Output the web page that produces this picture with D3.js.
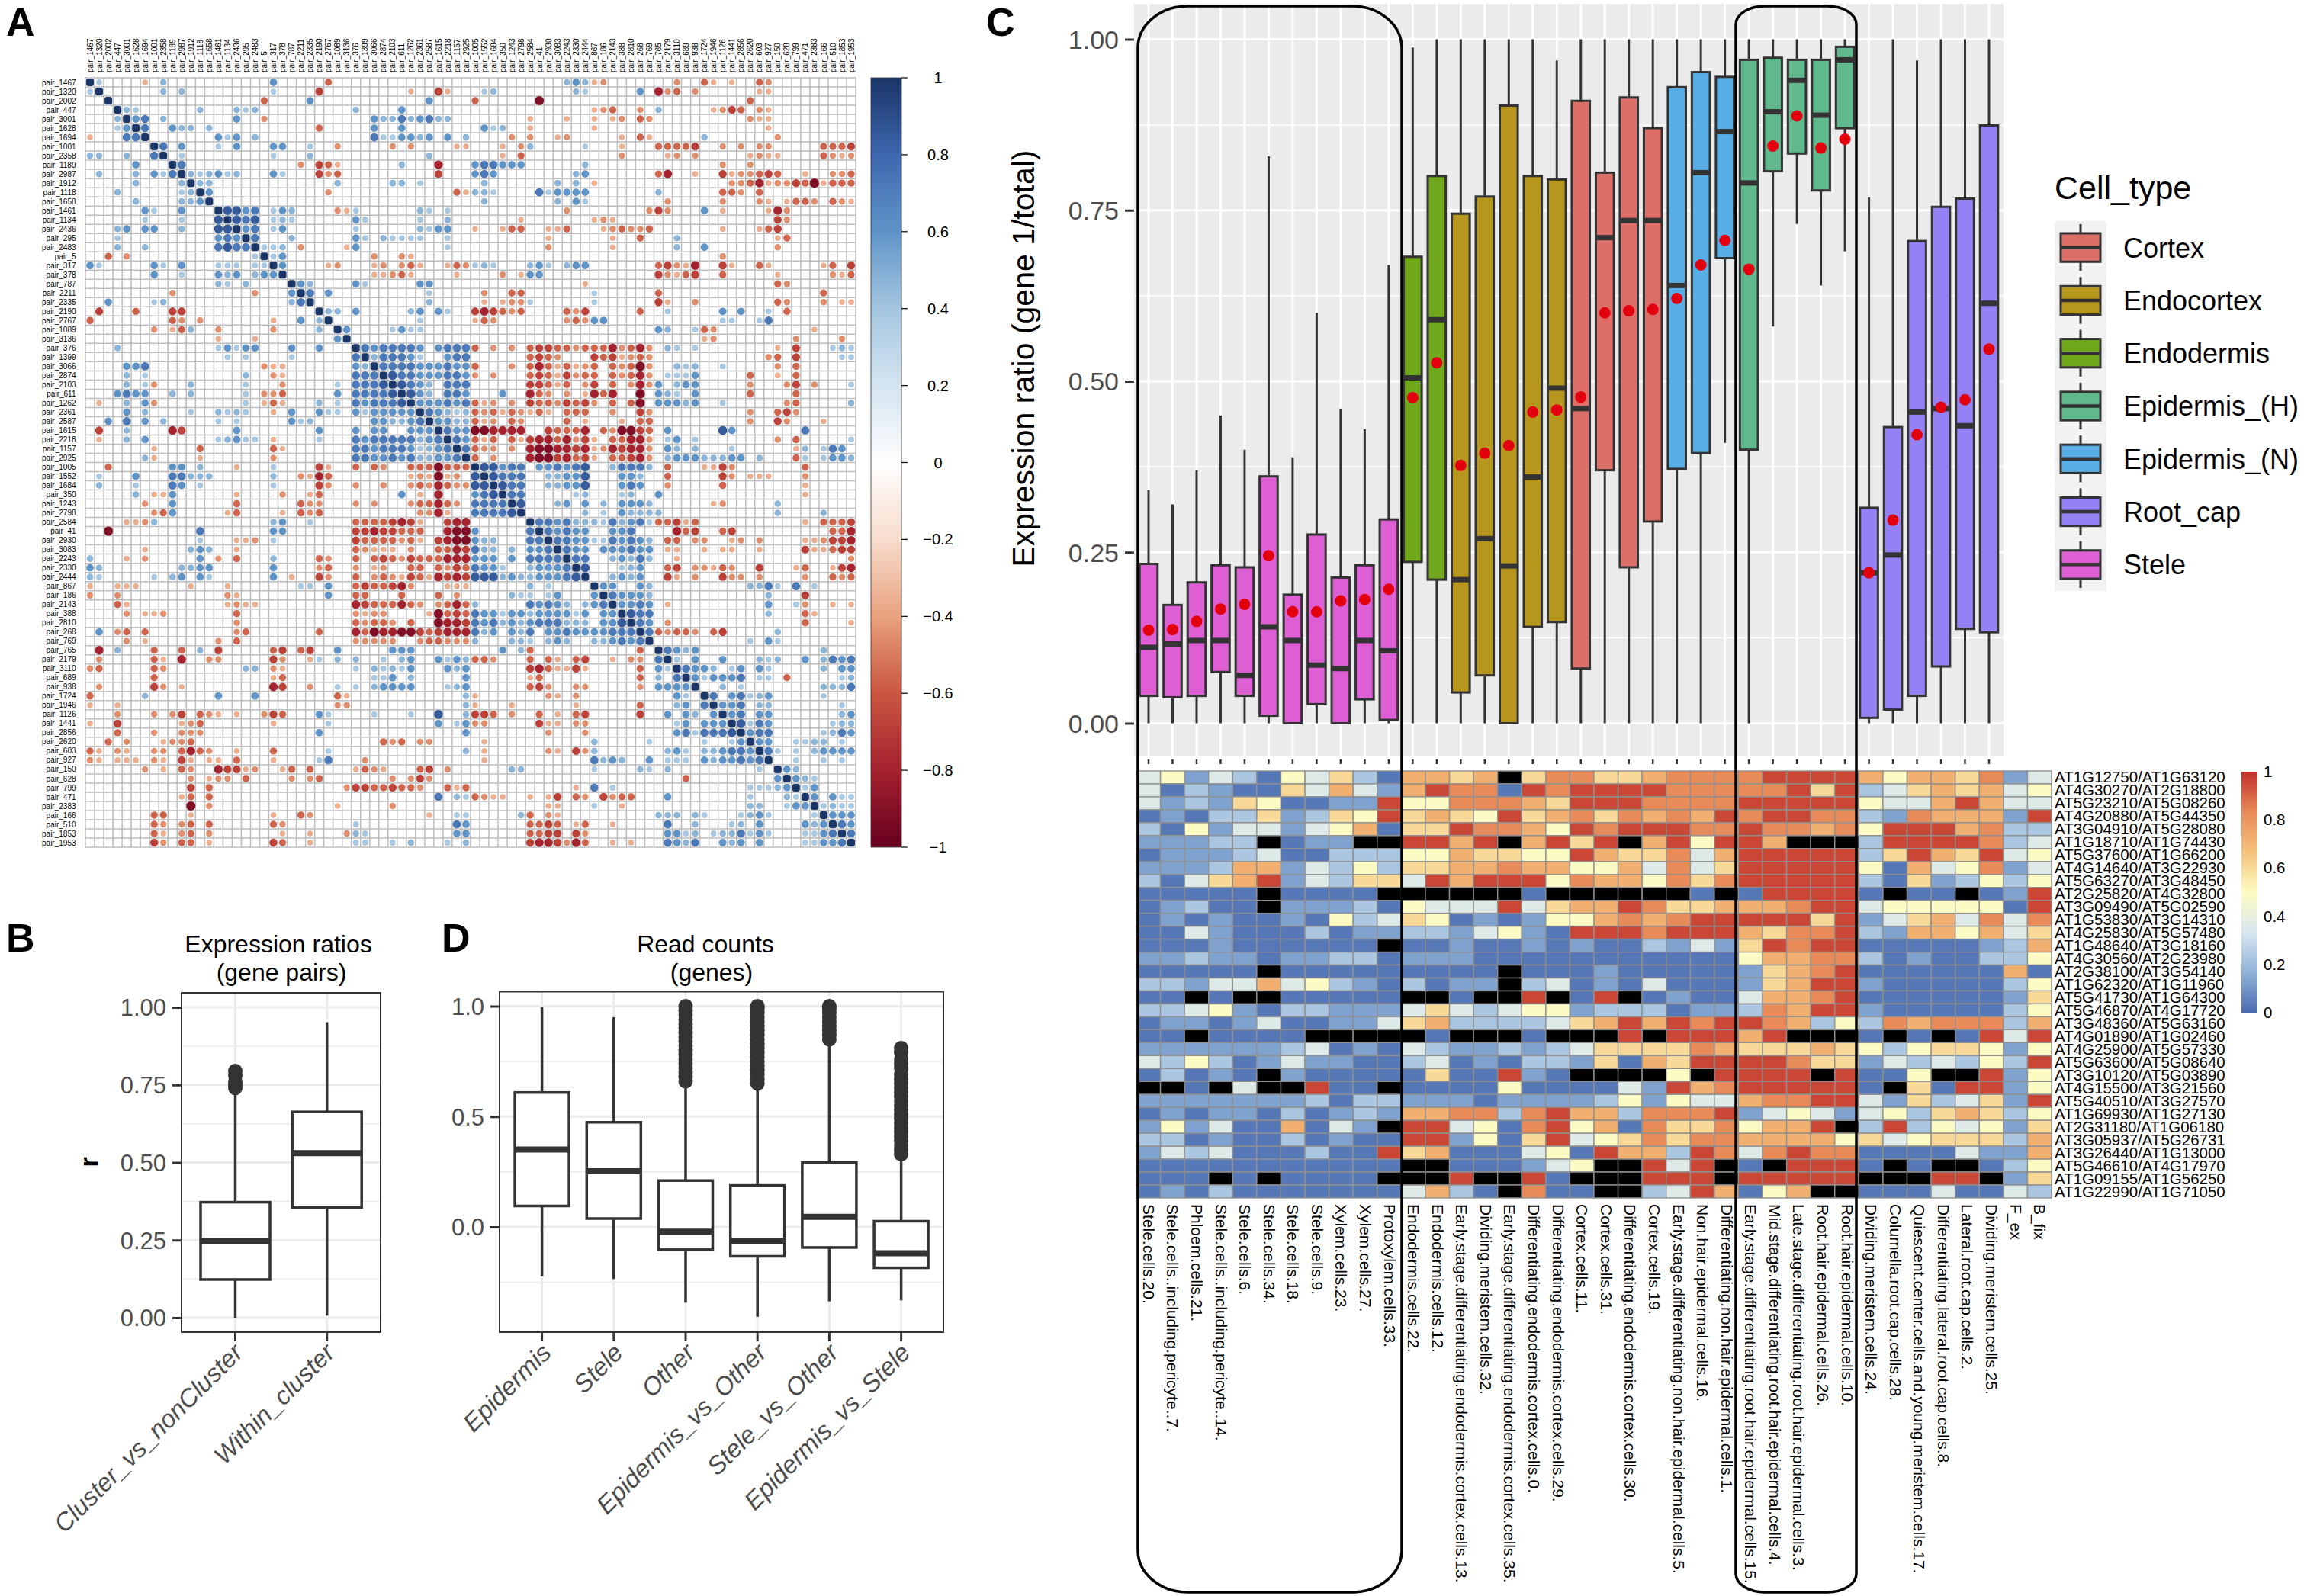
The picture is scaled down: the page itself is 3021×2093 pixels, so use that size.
<!DOCTYPE html>
<html><head><meta charset="utf-8">
<script src="https://cdn.jsdelivr.net/npm/d3@7/dist/d3.min.js"></script>
<style>
html,body{margin:0;padding:0;background:#fff}
svg{display:block}
text{font-family:"Liberation Sans",Arial,sans-serif}
</style></head><body>
<svg id="chart" width="3021" height="2093" xmlns="http://www.w3.org/2000/svg"></svg>
<script>
// ---------- Panel A data ----------
const pairIds = [1467,1320,2002,447,3001,1628,1694,1001,2358,1189,2987,1912,1118,1658,1461,1134,2436,295,2483,5,317,378,787,2211,2335,2190,2767,1089,3136,376,1399,3066,2874,2103,611,1262,2361,2587,1615,2218,1157,2925,1005,1552,1684,350,1243,2798,2584,41,2930,3083,2243,2330,2444,867,186,2143,388,2810,268,769,765,2179,3110,689,938,1724,1946,1126,1441,2856,2620,603,927,150,628,799,471,2383,166,510,1853,1953];
// upper triangle, by row: "startColumn:levels" ('.' = blank). 1-5 blue, a-f red
const corrUpper = [
"1:1 6:a 8:2 20:3 26:c 52:232ab 64:b 67:ca 70:a 73:cb",
"8:2 10:2 20:1 25:d 35:a 38:da 43:12 53:21 60:3 62:ebc 66:b 73:aa",
"19:c 24:3 37:3 42:c 49:f 72:c",
"4:21 12:2 16:212 29:2 34:3 55:abc 60:b 62:2 68:abdc 73:ba",
"5:34 8:2 16:3 19:b 31:322423422 48:a 52:a 55:a 57:ab 60:cb 72:baa",
"6:4 9:322.2 25:c 31:3 34:3 43:312 48:a 55:a 74:a",
"14:313.2 31:4113323.3.2 46:b 48:b 51:ab 58:a 60:ca 67:2 75:b",
"8:4.3 14:1.3 20:33 24:1 27:b 33:b.b 40:aa 45:a.b2 54:1 58:a 62:ccccd 69:b.b 73:bb 80:cccd",
"10:1 20:1 24:2 37:2 45:a.c 58:b 63:ab.b 72:abaa 80:cbab",
"10:4 23:b.dca 34:2 38:e 42:344333 54:2 69:b 72:b",
"11:212312 20:31 25:dbc 38:d 42:343 53:23 62:ce 66:a 69:dabbcdc 78:a 81:bbc",
"12:22 27:2 33:22.1 43:2 51:2.2.a 70:bbceabbdcfaccc",
"13:3 26:b 40:ca 42:221 49:413333 62:2 69:ccb 73:c",
"43:2 51:2.31 63:b 69:b 73:ba.accb.cba",
"15:5534 20:132 27:ba1 36:21.1 52:b 61:bdb 67:3 69:a 74:aeb",
"16:545 20:121 29:31 36:1..2 47:a 55:aba 75:db",
"17:34 20:13 29:1 36:2133 42:a..acc 50:aac 56:abcbbc 69:a 73:acd",
"18:4 22:2 29:31.21111 39:1 50:a 57:a 60:c 64:2 75:ac",
"19:112 23:b 28:a3 39:1 50:b 57:a 64:2 67:3 75:b",
"20:13 31:b 34:ba 69:b",
"21:3 26:ab 31:ab.bca 39:acb 42:121 48:231.233 62:cdbae 69:da 73:ca 80:ac.d",
"31:aabca 40:a 45:b.a33 62:dbacd 69:c 75:a 81:bac",
"23:32 29:31 36:33 54:a 75:cb",
"24:4 26:3 37:1 43:b 46:cc 55:1 62:c 80:c",
"37:2 43:a.abb1 55:1 62:da 66:b 75:cb 80:b.aa",
"26:22 29:3 35:23.31 42:dedcbc 52:cbd 60:c 63:1 69:3 71:3 74:1 76:c",
"36:1 42:acb 52:bcb33 69:11 73:14",
"28:3 33:1311 62:32 66:1cb 79:a",
"67:ab 77:b 82:b",
"30:4344443.3444 42:c.b.b.cddccbcccebceb 63:21.1 75:a.d 81:121",
"31:244431 39:344 48:cdcb 55:dcdabcb 74:bc.d 82:11",
"32:4444333433 42:c...b.cecacabc.cbcfb 64:212 69:1 75:b.c",
"33:544333443 42:b.b...cdcadbcc.cbceb 63:1113 72:c 75:a.c",
"34:5432.444 48:ddcac.bd.c.beb3 64:233 72:b 76:bd 79:b 83:1",
"35:532.443 45:3 48:ecb.b.aece 60:f 62:321.3 72:c 77:c",
"36:33 38:3434 42:cab 46:b.dccbdcdb.c.cf 62:33323 69:1 76:bc 83:2",
"37:43212 42:cbcacbaca.ccc 57:b 60:db 72:b 75:cdb",
"38:3322 42:cab.cb 52:c.a 58:a 60:cc 72:b 75:db 80:a",
"39:433 42:ffeeee 50:dccce.cbffdc 63:3 69:53 78:4",
"40:43 42:cac.cadeecebda.cceeb 63:13.1 75:b.c 83:1",
"41:4 42:cbb.b.effeedeabedeeb 63:32.2 70:1 77:a2.143",
"42:c.b...effdecda.ccdeb 63:233322233.2 77:c1.1332",
"43:55344 49:334345 57:24442 63:c 67:aadb 78:c",
"44:5444 50:22335 58:332 63:c 69:db 72:aaa 78:b",
"45:544 50:22335 58:343 63:b 69:c 78:a",
"46:44 53:12 58:12 62:3 78:a",
"47:5 51:23.3.2 58:3332 68:ab 75:2",
"54:2.1.32222 75:2 80:2",
"49:4434222142341 62:ccdac 78:a 80:cccd",
"50:43433 57:334 64:ecd 69:cd 81:cce",
"51:4433 55:1143432 63:cc.bb 70:ab 73:b 78:aabdde",
"52:433 56:333433 63:aa 67:a.aa 73:a 78:daacdd",
"53:44 57:23242 64:a 83:b",
"54:5 58:123 63:cd.bbacb 73:d 77:ac 81:ade",
"57:2323 63:da.b 69:dbb 73:b 78:b 81:cbc",
"56:33 60:32 72:2241.4.1",
"57:43332 74:2 78:d",
"58:3343 63:a 74:3 77:1b 81:a.a",
"59:544 74:2 78:ca",
"60:43 63:b 78:c 83:a",
"61:4cbccb 68:cd 75:2",
"72:1.31",
"63:4323 80:2",
"64:1.3 69:3 73:212 78:3 80:2434",
"65:4332 70:13 73:31 80:2.33",
"66:313334 73:11 76:c 82:12",
"69:2.1 80:2224",
"68:4.34123 80:1",
"69:334 73:22 82:1",
"70:34 73:33 82:23",
"71:5143 81:122",
"72:344 80:1243",
"73:33 77:1122 82:1",
"74:41.1.23333",
"77:1 80:1.1",
"76:32",
"77:321",
"78:13",
"79:3.311",
"80:1211",
"81:333",
"82:43",
"83:4",
""
];
const levelKeys = ["1","2","3","4","5","a","b","c","d","e","f"];
const levelVals = [0.38,0.47,0.6,0.72,0.85,-0.36,-0.45,-0.56,-0.68,-0.8,-0.92];
const corrStops = [-1,-0.8,-0.6,-0.4,-0.2,0,0.2,0.4,0.6,0.8,1];
const corrColors = ["#67001F","#A5222F","#C9553F","#E8A27E","#F8DDCD","#FFFFFF","#D5E5F1","#A4C6E0","#5F94C8","#3D67AE","#1B3668"];
const corrTicks = [1,0.8,0.6,0.4,0.2,0,-0.2,-0.4,-0.6,-0.8,-1];

// ---------- Panel B data ----------
const bCats = ["Cluster_vs_nonCluster","Within_cluster"];
const bLow = [0,0.007], bQ1=[0.123,0.355], bMed=[0.247,0.53], bQ3=[0.372,0.663], bHigh=[0.726,0.952];
const bOutliers = [[0.74,0.75,0.76,0.78,0.795],[]];
const bTicks = [0,0.25,0.5,0.75,1];

// ---------- Panel D data ----------
const dCats = ["Epidermis","Stele","Other","Epidermis_vs_Other","Stele_vs_Other","Epidermis_vs_Stele"];
const dLow=[-0.224,-0.236,-0.343,-0.407,-0.337,-0.333], dQ1=[0.095,0.038,-0.103,-0.133,-0.093,-0.185], dMed=[0.351,0.252,-0.022,-0.062,0.046,-0.119], dQ3=[0.609,0.474,0.21,0.188,0.292,0.026], dHigh=[0.996,0.95,0.659,0.65,0.847,0.32];
const dOutliers=[[],[],
[0.66,0.68,0.7,0.72,0.74,0.76,0.78,0.8,0.82,0.84,0.86,0.88,0.9,0.92,0.94,0.96,0.98,1],
[0.65,0.67,0.69,0.71,0.73,0.75,0.77,0.79,0.81,0.83,0.85,0.87,0.89,0.91,0.93,0.95,0.97,0.99,1],
[0.85,0.87,0.89,0.91,0.93,0.95,0.97,0.99,1],
[0.33,0.35,0.37,0.39,0.41,0.43,0.45,0.47,0.49,0.51,0.53,0.55,0.57,0.59,0.61,0.63,0.65,0.67,0.69,0.72,0.74,0.76,0.79,0.81]];

// ---------- Panel C data ----------
const cellGroup = ["Stele","Stele","Stele","Stele","Stele","Stele","Stele","Stele","Stele","Stele","Stele","Endodermis","Endodermis","Endocortex","Endocortex","Endocortex","Endocortex","Endocortex","Cortex","Cortex","Cortex","Cortex","Epidermis_(N)","Epidermis_(N)","Epidermis_(N)","Epidermis_(H)","Epidermis_(H)","Epidermis_(H)","Epidermis_(H)","Epidermis_(H)","Root_cap","Root_cap","Root_cap","Root_cap","Root_cap","Root_cap"];
const cLow=[0,0,0,0,0,0,0,0,0,0,0,0,0,0,0,0,0,0,0,0,0,0,0,0,0.41,0,0.58,0.73,0.64,0.69,0,0,0,0,0,0];
const cQ1=[0.04,0.038,0.04,0.075,0.04,0.011,0,0.028,0,0.035,0.005,0.236,0.21,0.045,0.07,0,0.141,0.148,0.08,0.37,0.228,0.295,0.372,0.395,0.68,0.4,0.807,0.833,0.779,0.87,0.008,0.02,0.04,0.083,0.138,0.133];
const cMed=[0.111,0.116,0.121,0.121,0.07,0.141,0.121,0.085,0.08,0.121,0.106,0.505,0.59,0.21,0.27,0.23,0.36,0.49,0.46,0.71,0.735,0.735,0.64,0.805,0.865,0.79,0.894,0.94,0.889,0.97,0.22,0.246,0.455,0.46,0.435,0.614];
const cQ3=[0.233,0.173,0.206,0.231,0.228,0.361,0.188,0.276,0.213,0.231,0.298,0.682,0.8,0.745,0.77,0.903,0.8,0.795,0.91,0.805,0.915,0.87,0.93,0.952,0.945,0.97,0.973,0.97,0.97,0.989,0.315,0.433,0.705,0.755,0.767,0.874];
const cHigh=[0.341,0.32,0.37,0.45,0.4,0.829,0.389,0.6,0.46,0.43,0.67,0.988,1,1,1,1,1,0.969,1,1,1,1,1,1,1,1,1,1,1,1,0.769,1,0.969,1,1,1];
const cMean=[0.136,0.137,0.149,0.167,0.174,0.245,0.163,0.163,0.179,0.181,0.196,0.476,0.527,0.377,0.395,0.406,0.455,0.458,0.477,0.6,0.603,0.605,0.621,0.67,0.706,0.664,0.844,0.888,0.841,0.854,0.22,0.297,0.422,0.462,0.473,0.547];
const cTicks=[0,0.25,0.5,0.75,1];
const legendNames=["Cortex","Endocortex","Endodermis","Epidermis_(H)","Epidermis_(N)","Root_cap","Stele"];
const legendColors=["#DD6F68","#B7961E","#6FA81B","#5FB98C","#58AEE6","#9580F5","#DD5FD3"];

const geneColumns=["Stele.cells.20.","Stele.cells..including.pericyte..7.","Phloem.cells.21.","Stele.cells..including.pericyte..14.","Stele.cells.6.","Stele.cells.34.","Stele.cells.18.","Stele.cells.9.","Xylem.cells.23.","Xylem.cells.27.","Protoxylem.cells.33.","Endodermis.cells.22.","Endodermis.cells.12.","Early.stage.differentiating.endodermis.cortex.cells.13.","Dividing.meristem.cells.32.","Early.stage.differentiating.endodermis.cortex.cells.35.","Differentiating.endodermis.cortex.cells.0.","Differentiating.endodermis.cortex.cells.29.","Cortex.cells.11.","Cortex.cells.31.","Differentiating.endodermis.cortex.cells.30.","Cortex.cells.19.","Early.stage.differentiating.non.hair.epidermal.cells.5.","Non.hair.epidermal.cells.16.","Differentiating.non.hair.epidermal.cells.1.","Early.stage.differentiating.root.hair.epidermal.cells.15.","Mid.stage.differentiating.root.hair.epidermal.cells.4.","Late.stage.differentiating.root.hair.epidermal.cells.3.","Root.hair.epidermal.cells.26.","Root.hair.epidermal.cells.10.","Dividing.meristem.cells.24.","Columella.root.cap.cells.28.","Quiescent.center.cells.and.young.meristem.cells.17.","Differentiating.lateral.root.cap.cells.8.","Lateral.root.cap.cells.2.","Dividing.meristem.cells.25.","F_ex","B_fix"];
const geneRows=["AT1G12750/AT1G63120","AT4G30270/AT2G18800","AT5G23210/AT5G08260","AT4G20880/AT5G44350","AT3G04910/AT5G28080","AT1G18710/AT1G74430","AT5G37600/AT1G66200","AT4G14640/AT3G22930","AT5G63270/AT3G48450","AT2G25820/AT4G32800","AT3G09490/AT5G02590","AT1G53830/AT3G14310","AT4G25830/AT5G57480","AT1G48640/AT3G18160","AT4G30560/AT2G23980","AT2G38100/AT3G54140","AT1G62320/AT1G11960","AT5G41730/AT1G64300","AT5G46870/AT4G17720","AT3G48360/AT5G63160","AT4G01890/AT1G02460","AT4G25900/AT5G57330","AT5G63600/AT5G08640","AT3G10120/AT5G03890","AT4G15500/AT3G21560","AT5G40510/AT3G27570","AT1G69930/AT1G27130","AT2G31180/AT1G06180","AT3G05937/AT5G26731","AT3G26440/AT1G13000","AT5G46610/AT4G17970","AT1G09155/AT1G56250","AT1G22990/AT1G71050"];
// one digit per cell = level, X = missing (black)
const heatValues=[
"45243154631 7767X688667888 89999 757768 24",
"41321164742 79881989999888 88969 346767 45",
"42326511229 55888769998888 99999 544797 44",
"12133623659 67659678687879 89988 328777 29",
"31524424571 66988759899988 98878 599978 33",
"22233X122XX 9979X7969X7959 97XXX 399998 34",
"12223411333 55766559766847 99999 369769 45",
"22237724353 66778775574846 99999 517458 24",
"31467924366 49799958775868 99999 316235 35",
"11111X1111X XXXXX1XXXXXX1X 19999 1X11X1 29",
"12311X22231 54449467798667 77899 455555 19",
"12121121534 65121255787899 99969 246748 48",
"11421113122 33245219998999 76889 327757 46",
"1112111111X 11211212113242 69899 111112 37",
"22322122331 22211111111111 57788 312113 35",
"11111X11111 1111X111211111 26789 111111 71",
"33244745321 3122X341214111 26799 211111 35",
"11X1XX11111 XX1XX9X19X1211 47789 111111 26",
"33452133222 46434552333122 38799 211111 35",
"12212411224 67333346797989 98735 387888 37",
"11X1111XXXX X1XXX1XXX9X999 79XXX 1X1X19 49",
"22222234121 43223234666687 66676 535665 25",
"43531242211 34121332617699 99866 243435 39",
"13121X21111 1611921XXXX5X9 999X9 115XX9 25",
"XX1X4XX911X 11115111142978 99999 1X6199 25",
"22222223133 22212222352544 78899 426346 29",
"12122131232 77883897738889 24542 453676 35",
"2524117142X 99451895718668 5779X 393545 26",
"33121131211 99251694568688 77775 645666 37",
"24341113119 67111451977398 48988 111142 27",
"11111111111 XX111245XX949X 1X999 1X1XX1 35",
"111X1X1111X XX9XX91XXX999X 99999 XXX99X 26",
"12131111111 4731X811XX3497 157XX 111411 43"
];
const heatLevels=[0,0.03,0.13,0.23,0.36,0.49,0.6,0.72,0.83,0.96];
const heatStops=[0,1/6,2/6,3/6,4/6,5/6,1];
const heatColors=["#4A6BB0","#8FB2D8","#D8E6F0","#FDFCC0","#F5C27C","#E98A58","#C0302A"];
const heatTicks=[0,0.2,0.4,0.6,0.8,1];
const panelLetters=["A","B","D","C"];

// ---------- drawing ----------
const svg=d3.select("#chart");
const FG="#4D4D4D", INK="#333333";
const defs=svg.append("defs");

// panel letters
const letterX=d3.scaleOrdinal().domain(panelLetters).range([8,8,579,1293]);
const letterY=d3.scaleOrdinal().domain(panelLetters).range([47,1248,1248,47]);
svg.append("g").selectAll("text").data(panelLetters).join("text")
 .attr("x",d=>letterX(d)).attr("y",d=>letterY(d)).text(d=>d)
 .attr("font-size",52).attr("font-weight","bold").attr("fill","#000");

// ===== Panel A =====
(function(){
 const names=pairIds.map(d=>"pair_"+d);
 const x=d3.scaleBand().domain(names).range([112,1122]);
 const y=d3.scaleBand().domain(names).range([102,1111]);
 const col=d3.scaleLinear().domain(corrStops).range(corrColors);
 const g=svg.append("g");
 const vMap=new Map(levelKeys.map((k,i)=>[k,levelVals[i]]));
 const cells=[];
 corrUpper.forEach((row,i)=>{
   if(!row) return;
   row.split(" ").forEach(seg=>{
     const [s,lv]=seg.split(":");
     [...lv].forEach((ch,k)=>{
       if(ch==="."||!vMap.has(ch)) return;
       const j=+s+k;
       cells.push({i,j,v:vMap.get(ch)});
       cells.push({i:j,j:i,v:vMap.get(ch)});
     });
   });
 });
 const gridX=names.concat(["end"]);
 g.append("g").selectAll("line").data(gridX).join("line")
  .attr("x1",(d,i)=>112+i*x.step()).attr("x2",(d,i)=>112+i*x.step())
  .attr("y1",102).attr("y2",1111).attr("stroke","#BDBDBD").attr("stroke-width",1.5);
 g.append("g").selectAll("line").data(gridX).join("line")
  .attr("y1",(d,i)=>102+i*y.step()).attr("y2",(d,i)=>102+i*y.step())
  .attr("x1",112).attr("x2",1122).attr("stroke","#BDBDBD").attr("stroke-width",1.5);
 g.append("g").selectAll("circle").data(cells).join("circle")
  .attr("cx",d=>x(names[d.j])+x.bandwidth()/2)
  .attr("cy",d=>y(names[d.i])+y.bandwidth()/2)
  .attr("r",d=>6.3*Math.sqrt(Math.abs(d.v)))
  .attr("fill",d=>col(d.v));
 g.append("g").selectAll("rect").data(names).join("rect")
  .attr("x",d=>x(d)+1).attr("y",d=>y(d)+1).attr("width",x.bandwidth()-2).attr("height",y.bandwidth()-2)
  .attr("rx",3).attr("fill",col(1));
 g.append("g").selectAll("text").data(names).join("text")
  .attr("x",99.5).attr("y",d=>y(d)+y.bandwidth()/2+3.6).attr("text-anchor","end")
  .attr("font-size",10).attr("fill","#000").text(d=>d);
 g.append("g").selectAll("text").data(names).join("text")
  .attr("transform",d=>`translate(${x(d)+x.bandwidth()/2+3.6},95) rotate(-90)`)
  .attr("font-size",10).attr("fill","#000").text(d=>d);
 const gr=defs.append("linearGradient").attr("id","corrGrad").attr("x1",0).attr("x2",0).attr("y1",1).attr("y2",0);
 gr.selectAll("stop").data(corrStops).join("stop").attr("offset",d=>(d+1)/2).attr("stop-color",d=>col(d));
 const by=d3.scaleLinear().domain([-1,1]).range([1111,102]);
 g.append("rect").attr("x",1142).attr("y",102).attr("width",40).attr("height",1009).attr("fill","url(#corrGrad)").attr("stroke","#333").attr("stroke-width",0.8);
 g.append("g").selectAll("line").data(corrTicks).join("line").attr("x1",1182).attr("x2",1190).attr("y1",d=>by(d)).attr("y2",d=>by(d)).attr("stroke","#000").attr("stroke-width",1.2);
 g.append("g").selectAll("text").data(corrTicks).join("text").attr("x",1230).attr("y",d=>by(d)+7).attr("text-anchor","middle").attr("font-size",20).attr("fill","#000")
  .text(d=>d3.format("")(d).replace("-","\u2212"));
})();

function boxPanel(o){
 const g=svg.append("g");
 const L=o.left,R=o.right,T=o.top,B=o.bottom;
 g.append("rect").attr("x",L).attr("y",T).attr("width",R-L).attr("height",B-T).attr("fill",o.bg||"#fff");
 g.append("g").selectAll("line").data(o.minor).join("line").attr("x1",L).attr("x2",R).attr("y1",d=>o.y(d)).attr("y2",d=>o.y(d)).attr("stroke",o.grid).attr("stroke-width",o.minorW);
 g.append("g").selectAll("line").data(o.major).join("line").attr("x1",L).attr("x2",R).attr("y1",d=>o.y(d)).attr("y2",d=>o.y(d)).attr("stroke",o.grid).attr("stroke-width",o.majorW);
 g.append("g").selectAll("line").data(o.cats).join("line").attr("y1",T).attr("y2",B).attr("x1",d=>o.x(d)).attr("x2",d=>o.x(d)).attr("stroke",o.grid).attr("stroke-width",o.majorW);
 const w=o.boxW;
 const items=o.cats.map((c,i)=>({c,i,low:o.low[i],q1:o.q1[i],med:o.med[i],q3:o.q3[i],high:o.high[i],out:o.out?o.out[i]:[],fill:o.fill?o.fill(i):"#fff"}));
 const sel=g.append("g").selectAll("g").data(items).join("g");
 sel.append("line").attr("x1",d=>o.x(d.c)).attr("x2",d=>o.x(d.c)).attr("y1",d=>o.y(d.high)).attr("y2",d=>o.y(d.q3)).attr("stroke",INK).attr("stroke-width",o.lw);
 sel.append("line").attr("x1",d=>o.x(d.c)).attr("x2",d=>o.x(d.c)).attr("y1",d=>o.y(d.q1)).attr("y2",d=>o.y(d.low)).attr("stroke",INK).attr("stroke-width",o.lw);
 sel.append("rect").attr("x",d=>o.x(d.c)-w/2).attr("width",w).attr("y",d=>o.y(d.q3)).attr("height",d=>o.y(d.q1)-o.y(d.q3)).attr("fill",d=>d.fill).attr("stroke",INK).attr("stroke-width",o.lw);
 sel.append("line").attr("x1",d=>o.x(d.c)-w/2).attr("x2",d=>o.x(d.c)+w/2).attr("y1",d=>o.y(d.med)).attr("y2",d=>o.y(d.med)).attr("stroke",INK).attr("stroke-width",o.medW);
 sel.selectAll("circle").data(d=>d.out.map(v=>({v,c:d.c}))).join("circle").attr("cx",d=>o.x(d.c)).attr("cy",d=>o.y(d.v)).attr("r",o.outR||9).attr("fill",INK);
 const ax=g.append("g").attr("transform",`translate(${L},0)`).call(d3.axisLeft(o.y).tickValues(o.ticks).tickFormat(o.fmt).tickSize(o.tick));
 ax.select(".domain").remove();
 ax.selectAll("line").attr("stroke",INK).attr("stroke-width",o.tickW);
 ax.selectAll("text").attr("font-size",o.fs).attr("fill",FG).attr("x",-o.tick-8).attr("dy","0.35em");
 if(o.border) g.append("rect").attr("x",L).attr("y",T).attr("width",R-L).attr("height",B-T).attr("fill","none").attr("stroke",INK).attr("stroke-width",2);
 return g;
}

// ===== Panel B =====
(function(){
 const y=d3.scaleLinear().domain([0,1]).range([1728,1321]);
 const x=d3.scalePoint().domain(bCats).range([308.5,428.7]);
 const g=boxPanel({left:238,right:499,top:1302,bottom:1747,x,y,cats:bCats,low:bLow,q1:bQ1,med:bMed,q3:bQ3,high:bHigh,out:bOutliers,
  major:bTicks,minor:[0.125,0.375,0.625,0.875],grid:"#EBEBEB",majorW:3,minorW:1.5,boxW:91,lw:3.5,medW:8,ticks:bTicks,fmt:d3.format(".2f"),tick:12,tickW:3,fs:31,border:true,outR:9.5});
 g.append("g").selectAll("line").data(bCats).join("line").attr("x1",d=>x(d)).attr("x2",d=>x(d)).attr("y1",1747).attr("y2",1759).attr("stroke",INK).attr("stroke-width",3);
 g.append("g").selectAll("text").data(bCats).join("text").attr("transform",d=>`translate(${x(d)+12},1776) rotate(-45)`).attr("text-anchor","end").attr("font-size",33).attr("font-style","italic").attr("fill",FG).text(d=>d);
 g.append("text").attr("transform","translate(128,1524) rotate(-90)").attr("text-anchor","middle").attr("font-size",34).attr("font-weight","bold").attr("fill","#000").text("r");
 g.append("text").attr("x",365).attr("y",1249).attr("text-anchor","middle").attr("font-size",32).attr("fill","#000").text("Expression ratios");
 g.append("text").attr("x",369).attr("y",1286).attr("text-anchor","middle").attr("font-size",32).attr("fill","#000").text("(gene pairs)");
})();

// ===== Panel D =====
(function(){
 const y=d3.scaleLinear().domain([0,1]).range([1609,1319.5]);
 const x=d3.scalePoint().domain(dCats).range([710.6,1181.6]);
 const g=boxPanel({left:655,right:1237,top:1300.5,bottom:1747,x,y,cats:dCats,low:dLow,q1:dQ1,med:dMed,q3:dQ3,high:dHigh,out:dOutliers,
  major:[0,0.5,1],minor:[-0.25,0.25,0.75],grid:"#EBEBEB",majorW:3,minorW:1.5,boxW:71,lw:3.5,medW:8,ticks:[0,0.5,1],fmt:d3.format(".1f"),tick:12,tickW:3,fs:31,border:true,outR:9.5});
 g.append("g").selectAll("line").data(dCats).join("line").attr("x1",d=>x(d)).attr("x2",d=>x(d)).attr("y1",1747).attr("y2",1759).attr("stroke",INK).attr("stroke-width",3);
 g.append("g").selectAll("text").data(dCats).join("text").attr("transform",d=>`translate(${x(d)+14},1776) rotate(-45)`).attr("text-anchor","end").attr("font-size",33).attr("font-style","italic").attr("fill",FG).text(d=>d);
 g.append("text").attr("x",925).attr("y",1249).attr("text-anchor","middle").attr("font-size",32).attr("fill","#000").text("Read counts");
 g.append("text").attr("x",933).attr("y",1286).attr("text-anchor","middle").attr("font-size",32).attr("fill","#000").text("(genes)");
})();

// ===== Panel C boxes =====
(function(){
 const cats=cellGroup.map((d,i)=>i);
 const y=d3.scaleLinear().domain([0,1]).range([948.5,51.5]);
 const x=d3.scalePoint().domain(cats).range([1506,2608]);
 const colour=d3.scaleOrdinal().domain(legendNames).range(legendColors);
 const g=boxPanel({left:1487,right:2627,top:5,bottom:992,x,y,cats,low:cLow,q1:cQ1,med:cMed,q3:cQ3,high:cHigh,bg:"#EBEBEB",
  major:cTicks,minor:[0.125,0.375,0.625,0.875],grid:"#FFFFFF",majorW:3,minorW:1.5,boxW:23.6,lw:3,medW:7,ticks:cTicks,fmt:d3.format(".2f"),tick:12,tickW:3,fs:34,border:false,fill:i=>colour(cellGroup[i])});
 g.append("g").selectAll("circle").data(cMean).join("circle").attr("cx",(d,i)=>x(i)).attr("cy",d=>y(d)).attr("r",7.5).attr("fill","#E2000F");
 g.append("g").selectAll("line").data(cats).join("line").attr("x1",d=>x(d)).attr("x2",d=>x(d)).attr("y1",996).attr("y2",1002).attr("stroke",INK).attr("stroke-width",2.5);
 g.append("text").attr("transform","translate(1356,470) rotate(-90)").attr("text-anchor","middle").attr("font-size",41).attr("fill","#000").text("Expression ratio (gene 1/total)");
 g.append("text").attr("x",2694).attr("y",261).attr("font-size",43).attr("fill","#000").text("Cell_type");
 const kh=485/7;
 const lg=g.append("g").selectAll("g").data(legendNames).join("g").attr("transform",(d,i)=>`translate(2694,${290+i*kh})`);
 lg.append("rect").attr("width",68).attr("height",kh).attr("fill","#F2F2F2");
 lg.append("line").attr("x1",34).attr("x2",34).attr("y1",4).attr("y2",kh-4).attr("stroke",INK).attr("stroke-width",3);
 lg.append("rect").attr("x",8).attr("y",16).attr("width",52).attr("height",kh-32).attr("fill",d=>colour(d)).attr("stroke",INK).attr("stroke-width",3);
 lg.append("line").attr("x1",8).attr("x2",60).attr("y1",kh/2).attr("y2",kh/2).attr("stroke",INK).attr("stroke-width",4.5);
 lg.append("text").attr("x",90).attr("y",kh/2+13).attr("font-size",36).attr("fill","#000").text(d=>d);
})();

// ===== Panel C heat map =====
(function(){
 const x=d3.scaleBand().domain(geneColumns).range([1490,2690]);
 const y=d3.scaleBand().domain(geneRows).range([1011,1571]);
 const col=d3.scaleLinear().domain(heatStops).range(heatColors);
 const g=svg.append("g");
 const cells=[];
 heatValues.forEach((r,i)=>{[...r.replace(/ /g,"")].forEach((ch,j)=>cells.push({i,j,ch}))});
 g.append("g").selectAll("rect").data(cells).join("rect")
  .attr("x",d=>x(geneColumns[d.j])).attr("y",d=>y(geneRows[d.i])).attr("width",x.bandwidth()).attr("height",y.bandwidth())
  .attr("fill",d=>d.ch==="X"?"#000":col(heatLevels[+d.ch])).attr("stroke","#909090").attr("stroke-width",1.4);
 g.append("g").selectAll("text").data(geneRows).join("text").attr("x",2694).attr("y",d=>y(d)+y.bandwidth()/2+7).attr("font-size",20.5).attr("fill","#000").text(d=>d);
 g.append("g").selectAll("text").data(geneColumns).join("text")
  .attr("transform",d=>`translate(${x(d)+x.bandwidth()/2-7},1579) rotate(90)`).attr("font-size",21).attr("fill","#000").text(d=>d);
 const gr=defs.append("linearGradient").attr("id","heatGrad").attr("x1",0).attr("x2",0).attr("y1",1).attr("y2",0);
 gr.selectAll("stop").data(heatStops).join("stop").attr("offset",d=>d).attr("stop-color",d=>col(d));
 const by=d3.scaleLinear().domain([0,1]).range([1328,1012]);
 g.append("rect").attr("x",2939).attr("y",1012).attr("width",21).attr("height",316).attr("fill","url(#heatGrad)");
 g.append("g").selectAll("text").data(heatTicks).join("text").attr("x",2968).attr("y",d=>by(d)+7).attr("font-size",20.5).attr("fill","#000").text(d=>d3.format("")(d));
 g.append("rect").attr("x",1492).attr("y",8).attr("width",346).attr("height",2080).attr("rx",65).attr("ry",55).attr("fill","none").attr("stroke","#000").attr("stroke-width",3.5);
 g.append("rect").attr("x",2276).attr("y",8).attr("width",158).attr("height",2080).attr("rx",38).attr("ry",24).attr("fill","none").attr("stroke","#000").attr("stroke-width",3.5);
})();
</script>
</body></html>
